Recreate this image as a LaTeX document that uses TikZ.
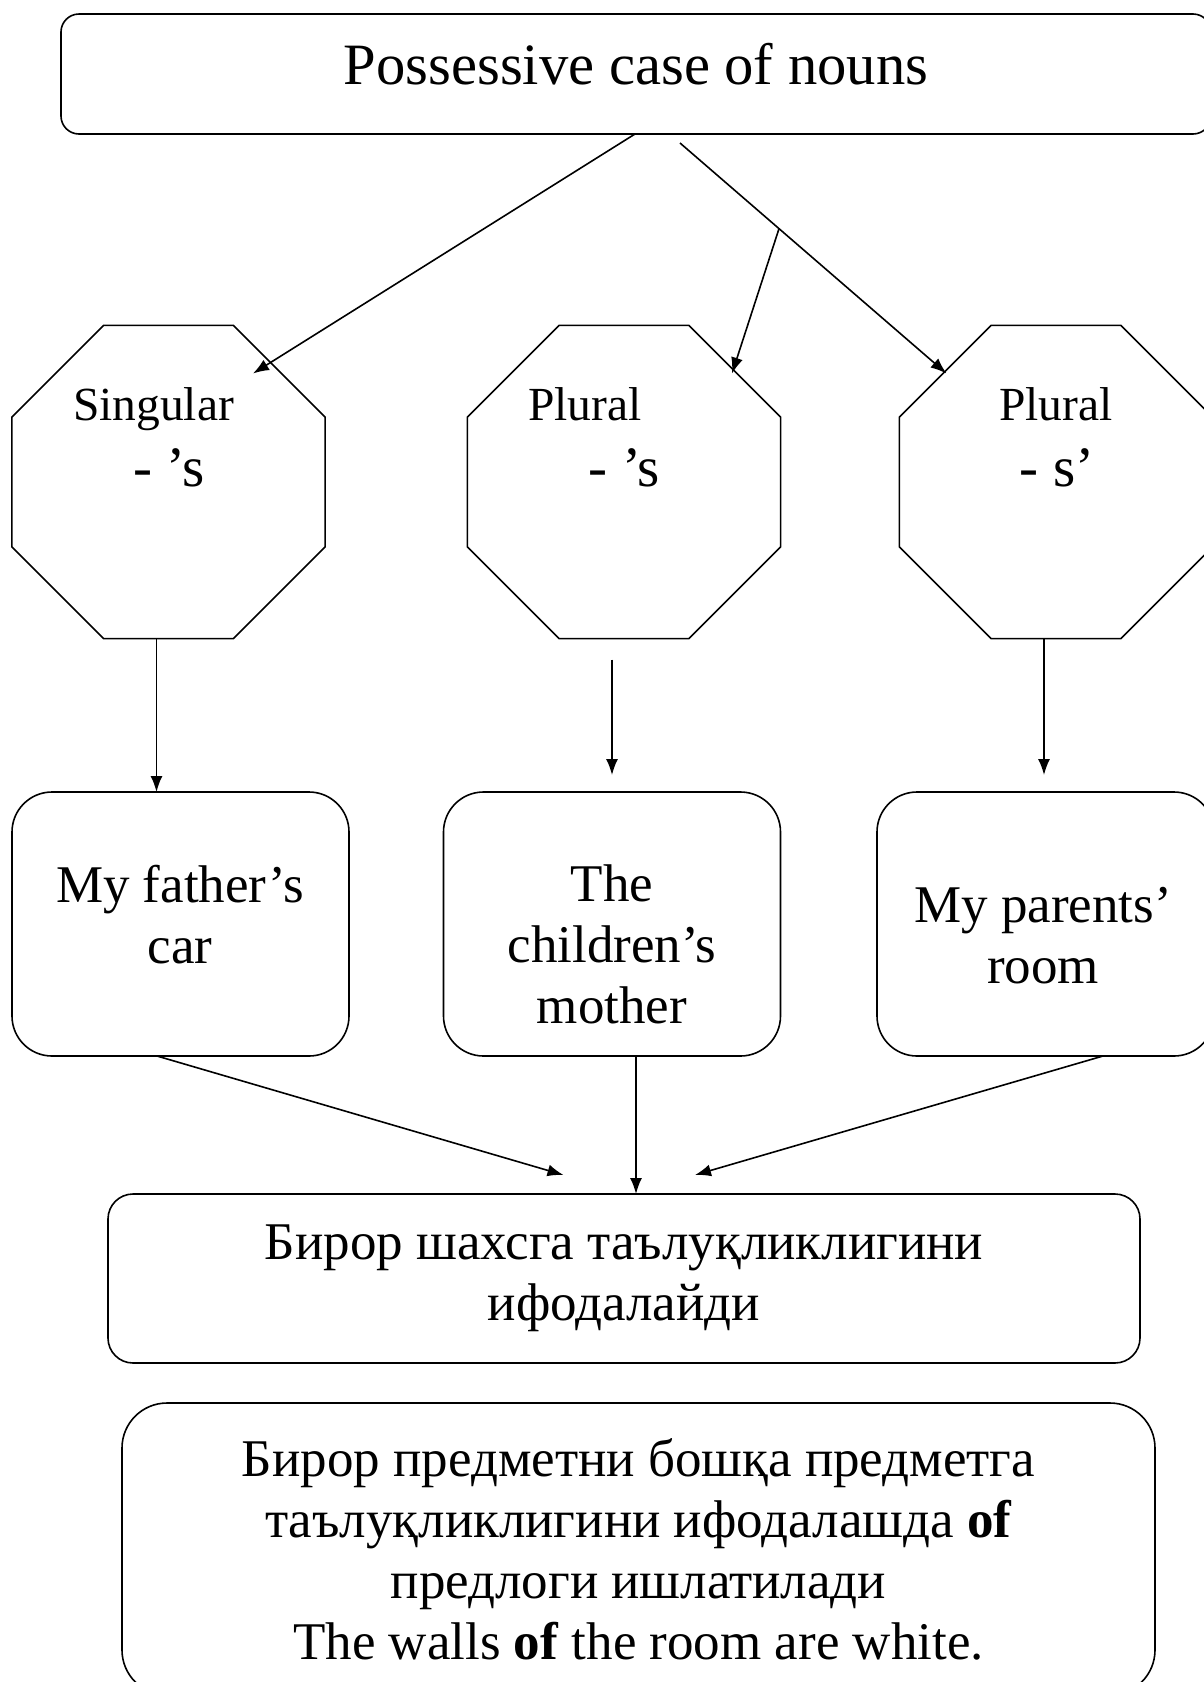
\documentclass[tikz,border=0pt]{standalone}
\usepackage{fontspec}
\setmainfont{Liberation Serif}
\usetikzlibrary{shapes.geometric,arrows.meta,calc}

\newcommand\titlesize{\fontsize{58.6}{66}\selectfont}
\newcommand\tagsize{\fontsize{47.5}{55}\selectfont}
\newcommand\suffixsize{\fontsize{57}{65}\selectfont}
\newcommand\boxsize{\fontsize{53}{61}\selectfont}

\begin{document}
\begin{tikzpicture}[x=1pt,y=1pt,>={Latex[length=16pt,width=12pt]},
    every node/.style={inner sep=0pt,outer sep=0pt},
    octagon/.style={draw,line width=1.6pt,regular polygon,regular polygon sides=8,minimum size=339pt},
    roundbox/.style={draw,line width=1.6pt,rounded corners=#1},
    example/.style={roundbox=40pt,minimum width=337pt,minimum height=264pt},
    link/.style={->,line width=1.6pt}]
        \def\drop{17pt}
        \useasboundingbox (0,0) rectangle (1203,-1682);

        \node[roundbox=18pt,minimum width=1150pt,minimum height=120pt,text height=40pt,text depth=20pt,font=\titlesize] (title) at (636,-74) {Possessive case of nouns};

        \node[octagon] (sg) at (168.5,-482) {};
        \node[octagon] (pl) at (624,-482) {};
        \node[octagon] (pls) at (1056,-482) {};
        \node[font=\tagsize,anchor=base] (sgname) at (153.5,-420) {Singular};
        \node[font=\suffixsize,anchor=base] (sgend) at (169,-486) {- ’s};
        \node[font=\tagsize,anchor=base] (plname) at (585,-420) {Plural};
        \node[font=\suffixsize,anchor=base] (plend) at (624.5,-486) {- ’s};
        \node[font=\tagsize,anchor=base] (plsname) at (1056,-420) {Plural};
        \node[font=\suffixsize,anchor=base] (plsend) at (1057,-486) {- s’};

        \node[example] (father) at (180.5,-924) {};
        \node[example] (children) at (612,-924) {};
        \node[example] (parents) at (1045.5,-924) {};
        \node[font=\boxsize,align=center,anchor=north] (fathertxt) at (180,-865) {My father’s\\car};
        \node[font=\boxsize,align=center,anchor=north] (childrentxt) at (612,-865) {The\\children’s\\mother};
        \node[font=\boxsize,align=center,anchor=north] (parentstxt) at (1043,-887) {My parents’\\room};

        \node[roundbox=25pt,minimum width=1032pt,minimum height=169pt,font=\boxsize,align=center] (meaning) at (624,-1278.5) {Бирор шахсга таълуқликлигини\\ифодалайди};
        \node[roundbox=45pt,minimum width=1033pt,minimum height=292pt,font=\boxsize,align=center] (ofnote) at (638.5,-1549) {Бирор предметни бошқа предметга\\таълуқликлигини ифодалашда \textbf{of}\\предлоги ишлатилади\\The walls \textbf{of} the room are white.};

        \coordinate (sgin) at (253,-373.5);
        \coordinate (plsstart) at (680,-143);
        \coordinate (plsin) at (946.5,-373.5);
        \coordinate (fork) at ($(plsstart)!0.3715!(plsin)$);
        \coordinate (plin) at (732,-373.5);

        \draw[link] ([xshift=-1pt]title.south) -- (sgin);
        \draw[link] (plsstart) -- (plsin);
        \draw[link] (fork) -- (plin);
        \draw[link] ([xshift=-12pt]sg.south) -- ([xshift=-24pt]father.north);
        \draw[link] ([xshift=-12pt,yshift=-21pt]pl.south) -- ([yshift=\drop]children.north);
        \draw[link] ([xshift=-12pt]pls.south) -- ([xshift=-1.5pt,yshift=\drop]parents.north);
        \draw[link] ([xshift=-23.5pt]father.south) -- ([xshift=-60.5pt,yshift=19pt]meaning.north);
        \draw[link] ([xshift=24pt]children.south) -- ([xshift=12pt]meaning.north);
        \draw[link] ([xshift=57.5pt]parents.south) -- ([xshift=71pt,yshift=19pt]meaning.north);
    \end{tikzpicture}
\end{document}
